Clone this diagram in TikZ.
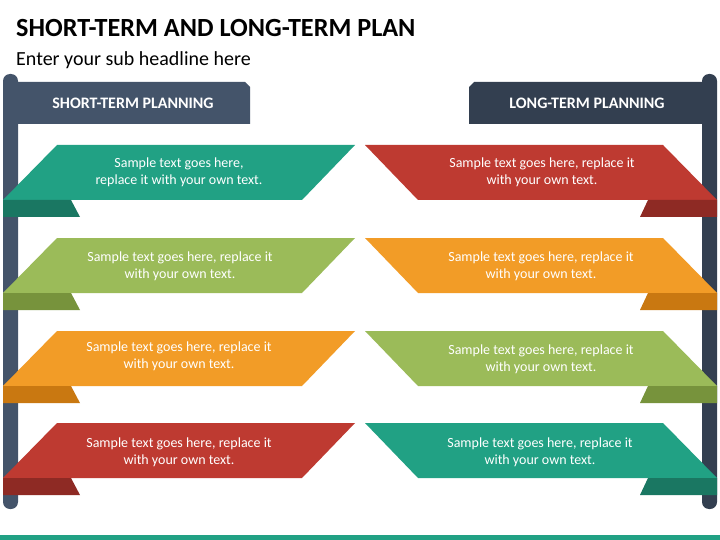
\documentclass[tikz,border=0pt]{standalone}
\usepackage{fontspec}
\setmainfont{Carlito}
\definecolor{teal1}{HTML}{21A184}
\definecolor{teal2}{HTML}{1A7762}
\definecolor{red1}{HTML}{BE3A31}
\definecolor{red2}{HTML}{8E2A24}
\definecolor{green1}{HTML}{9BBB59}
\definecolor{green2}{HTML}{77933C}
\definecolor{orange1}{HTML}{F29C27}
\definecolor{orange2}{HTML}{C97811}
\definecolor{polel}{HTML}{44546A}
\definecolor{poler}{HTML}{333F50}
\tikzset{
  btext/.style={text=white, align=center, font=\fontsize{14}{17}\selectfont},
  htext/.style={text=white, font=\bfseries\fontsize{16}{18}\selectfont},
}
\newcommand{\leftband}[3]{% top y, main colour, fold colour
  \fill[#2] (57,#1) -- (355,#1) -- (302,#1+55) -- (3,#1+55) -- cycle;
  \fill[#3] (3,#1+55) -- (71,#1+55) -- (80,#1+72) -- (3,#1+72) -- cycle;
}
\newcommand{\rightband}[3]{%
  \fill[#2] (365,#1) -- (663,#1) -- (717,#1+55) -- (418,#1+55) -- cycle;
  \fill[#3] (717,#1+55) -- (648,#1+55) -- (640,#1+72) -- (717,#1+72) -- cycle;
}
\begin{document}
\begin{tikzpicture}[x=1pt,y=-1pt]
\useasboundingbox (0,0) rectangle (720,540);
\fill[white] (0,0) rectangle (720,540);
% title
\node[anchor=base west, inner sep=0, font=\bfseries\fontsize{26.2}{30}\selectfont] (title) at (16,37) {SHORT-TERM AND LONG-TERM PLAN};
\node[anchor=base west, inner sep=0, font=\fontsize{20}{24}\selectfont] (sub) at (16,66) {Enter your sub headline here};
% poles and headers
\fill[polel, rounded corners=7] (3,74) rectangle (18,509);
\fill[polel] (17,82) -- (245,82) -- (250,87) -- (250,124) -- (17,124) -- cycle;
\fill[poler, rounded corners=7] (702,74) rectangle (717,509);
\fill[poler] (703,82) -- (474,82) -- (469,87) -- (469,124) -- (703,124) -- cycle;
\node[htext] (hl) at (133,103) {SHORT-TERM PLANNING};
\node[htext] (hr) at (587,103) {LONG-TERM PLANNING};
% bands
\leftband{145}{teal1}{teal2}
\leftband{238}{green1}{green2}
\leftband{331}{orange1}{orange2}
\leftband{423}{red1}{red2}
\rightband{145}{red1}{red2}
\rightband{238}{orange1}{orange2}
\rightband{331}{green1}{green2}
\rightband{423}{teal1}{teal2}
% texts
\node[btext] (l1) at (179,172.5) {Sample text goes here,\\replace it with your own text.};
\node[btext] (l2) at (180,266) {Sample text goes here, replace it\\with your own text.};
\node[btext] (l3) at (179,356.5) {Sample text goes here, replace it\\with your own text.};
\node[btext] (l4) at (179,452) {Sample text goes here, replace it\\with your own text.};
\node[btext] (r1) at (542,172.5) {Sample text goes here, replace it\\with your own text.};
\node[btext] (r2) at (541,266) {Sample text goes here, replace it\\with your own text.};
\node[btext] (r3) at (541,359.5) {Sample text goes here, replace it\\with your own text.};
\node[btext] (r4) at (540,452) {Sample text goes here, replace it\\with your own text.};
% bottom line
\fill[teal1] (0,535) rectangle (720,540);
\end{tikzpicture}
\end{document}
